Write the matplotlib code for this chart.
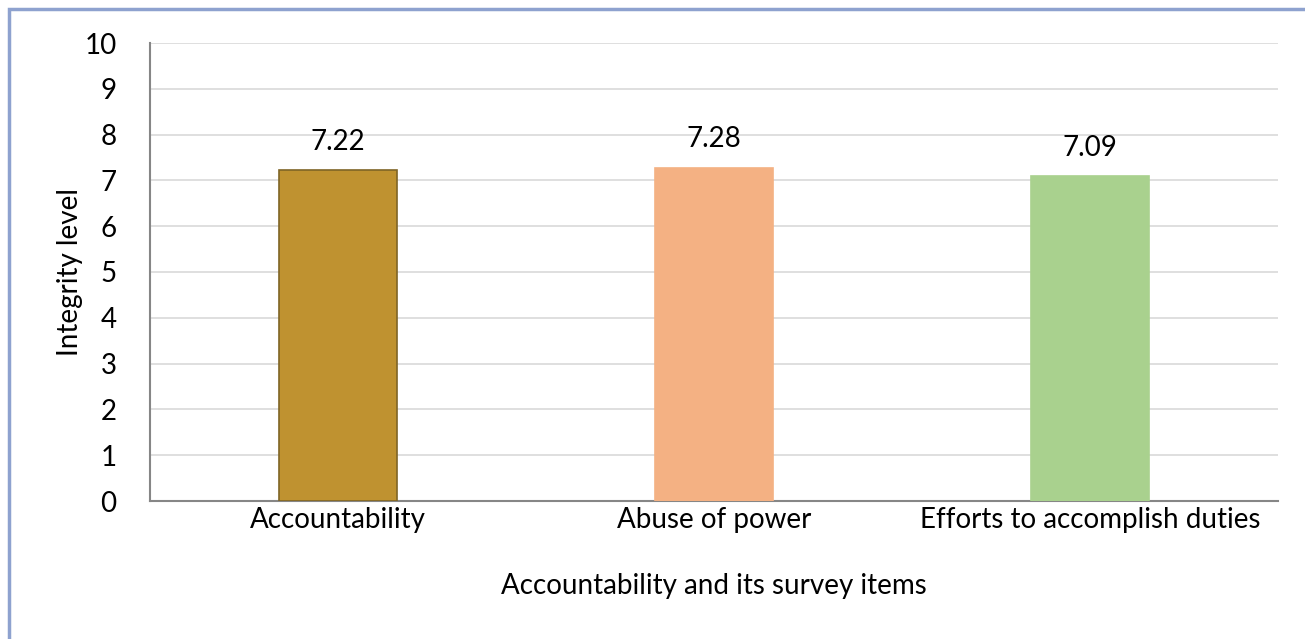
import matplotlib
matplotlib.use("Agg")
import matplotlib.pyplot as plt
from matplotlib.patches import Rectangle

categories = ["Accountability", "Abuse of power", "Efforts to accomplish duties"]
values = [7.22, 7.28, 7.09]
colors = ["#BF9230", "#F4B183", "#A9D18E"]
edges = ["#7F6526", "#F4B183", "#A9D18E"]
yticks = list(range(0, 11))

plt.rcParams['font.family'] = ['Lato', 'DejaVu Sans']
FS = 20

fig = plt.figure(figsize=(13.05, 6.39), dpi=100)
ax = fig.add_axes([150/1305, 1-501/639, (1278-150)/1305, (501-43)/639])

x = list(range(len(categories)))
bars = ax.bar(x, values, width=0.314, color=colors, edgecolor=edges, linewidth=1.2, zorder=3)
for xi, v in zip(x, values):
    ax.annotate(f"{v:.2f}", (xi, v), xytext=(0, 11), textcoords="offset points",
                ha="center", va="bottom", fontsize=FS, color="#000000")

ax.set_xlim(-0.5, 2.5)
ax.set_ylim(0, 10)
ax.set_yticks(yticks)
ax.set_xticks(x)
ax.set_xticklabels(categories, fontsize=FS)
ax.tick_params(axis='y', length=0, pad=24, labelsize=FS)
ax.tick_params(axis='x', length=0, pad=4, labelsize=FS)
ax.grid(axis='y', color="#D9D9D9", linewidth=1.2, zorder=0)
for s in ["top", "right"]:
    ax.spines[s].set_visible(False)
ax.spines["left"].set_color("#868686")
ax.spines["bottom"].set_color("#868686")
ax.spines["left"].set_linewidth(1.5)
ax.spines["bottom"].set_linewidth(1.5)
ax.set_xlabel("Accountability and its survey items", fontsize=FS, labelpad=29)
ax.set_ylabel("Integrity level", fontsize=FS, labelpad=1)

fig.patches.append(Rectangle((9/1305, -0.1), 1.2, 1 - 9/639 + 0.1, transform=fig.transFigure,
                             fill=False, edgecolor="#8EA2CF", linewidth=2.5))

fig.savefig("out.png", dpi=100)
